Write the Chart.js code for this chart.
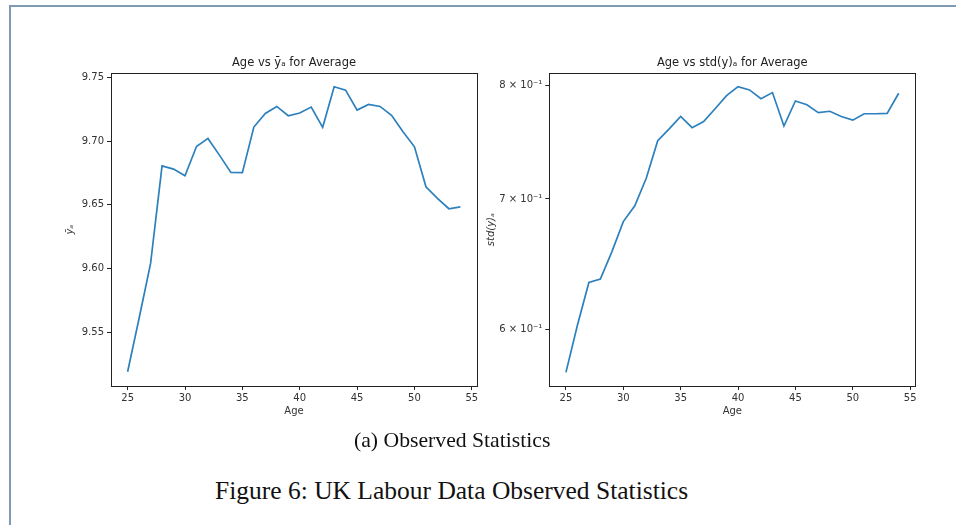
<!DOCTYPE html>
<html>
<head>
<meta charset="utf-8">
<script src="https://cdn.jsdelivr.net/npm/chart.js@4"></script>
<style>
  body { margin: 0; background: #fff; width: 956px; height: 525px; overflow: hidden; position: relative; }
  .frameTop { position: absolute; left: 9px; top: 5px; width: 947px; height: 2px; background: #7f9ab5; }
  .frameLeft { position: absolute; left: 9px; top: 5px; width: 2px; height: 520px; background: #7f9ab5; }
  .box { position: absolute; }
  .cap { position: absolute; font-family: "Liberation Serif", serif; color: #111; white-space: nowrap; }
</style>
</head>
<body>
<div class="frameTop"></div>
<div class="frameLeft"></div>
<div class="box" style="left:50px; top:45px; width:440px; height:390px;"><canvas id="meanChart"></canvas></div>
<div class="box" style="left:480px; top:45px; width:450px; height:390px;"><canvas id="stdChart"></canvas></div>
<div class="cap" id="sub" style="left:354px; top:428px; font-size:21.7px;">(a) Observed Statistics</div>
<div class="cap" id="fig" style="left:215px; top:476px; font-size:25.5px;">Figure 6: UK Labour Data Observed Statistics</div>
<script>
// ages 25..54
const ages = [25, 26, 27, 28, 29, 30, 31, 32, 33, 34, 35, 36, 37, 38, 39,
  40, 41, 42, 43, 44, 45, 46, 47, 48, 49, 50, 51, 52, 53, 54];

// mean of log wage per age
const meanY = [9.519, 9.561, 9.604, 9.6806, 9.678, 9.6728, 9.6958, 9.7021, 9.689, 9.6754,
  9.6752, 9.711, 9.7217, 9.7272, 9.7199, 9.722, 9.7267, 9.7108, 9.7426, 9.740,
  9.7243, 9.7288, 9.7272, 9.7202, 9.7073, 9.6955, 9.6641, 9.655, 9.6469, 9.6484];

// std of log wage per age
const stdY = [0.5703, 0.6030, 0.6342, 0.6367, 0.6576, 0.6815, 0.6944, 0.7173, 0.7499, 0.7604,
  0.7716, 0.7615, 0.7670, 0.7787, 0.7909, 0.7993, 0.7962, 0.7880, 0.7937, 0.7630,
  0.7859, 0.7824, 0.7751, 0.7764, 0.7716, 0.7683, 0.7741, 0.7741, 0.7745, 0.7931];

const xTicks = [25, 30, 35, 40, 45, 50, 55];
const meanTicks = [9.55, 9.60, 9.65, 9.70, 9.75];
const stdTicks = [0.6, 0.7, 0.8];

const FONT = 'DejaVu Sans';
const INK = '#333';

// matplotlib style box round the plot area
const boxPlugin = {
  id: 'axesBox',
  afterDraw(chart) {
    const a = chart.chartArea, ctx = chart.ctx;
    ctx.save();
    ctx.strokeStyle = '#222';
    ctx.lineWidth = 1;
    ctx.strokeRect(Math.round(a.left) + 0.5, Math.round(a.top) + 0.5,
      Math.round(a.right - a.left), Math.round(a.bottom - a.top));
    ctx.restore();
  }
};

function sup(n) {
  const map = { '-': '⁻', '1': '¹' };
  return String(n).split('').map(c => map[c] || c).join('');
}

function makeChart(id, values, opts) {
  const points = ages.map((a, i) => ({ x: a, y: values[i] }));
  return new Chart(document.getElementById(id), {
    type: 'line',
    data: {
      datasets: [{
        data: points,
        borderColor: '#2b80bd',
        borderWidth: 1.7,
        pointRadius: 0,
        tension: 0,
        fill: false
      }]
    },
    plugins: [boxPlugin],
    options: {
      responsive: true,
      maintainAspectRatio: false,
      animation: false,
      layout: { padding: { left: 0, right: opts.padRight, top: 0, bottom: 0 } },
      plugins: {
        legend: { display: false },
        tooltip: { enabled: false },
        title: {
          display: true,
          fullSize: false,
          text: opts.title,
          color: '#222',
          font: { family: FONT, size: 11.5, weight: 'normal', lineHeight: 1.2 },
          padding: { top: 11.1, bottom: 3.4 }
        }
      },
      scales: {
        x: {
          type: 'linear',
          min: 23.55,
          max: 55.45,
          afterBuildTicks: s => { s.ticks = xTicks.map(v => ({ value: v })); },
          afterFit: s => { s.height = 49; },
          grid: { display: true, drawOnChartArea: false, drawTicks: true, tickLength: 4, color: '#222' },
          border: { display: true, color: '#222' },
          ticks: { color: INK, font: { family: FONT, size: 10 }, padding: 2, maxRotation: 0 },
          title: { display: true, text: 'Age', color: INK, font: { family: FONT, size: 10 }, padding: { top: 0, bottom: 18 } }
        },
        y: {
          type: opts.yType,
          min: opts.yMin,
          max: opts.yMax,
          afterBuildTicks: s => { s.ticks = opts.yTicks.map(v => ({ value: v })); },
          afterFit: s => { s.width = opts.yWidth; },
          grid: { display: true, drawOnChartArea: false, drawTicks: true, tickLength: 4, color: '#222' },
          border: { display: true, color: '#222' },
          ticks: { color: INK, font: { family: FONT, size: 10 }, padding: 3, callback: opts.tickFmt },
          title: { display: true, text: opts.yTitle, color: INK, font: { family: FONT, size: 10, style: 'italic' }, padding: { top: opts.yTitlePad, bottom: 0 } }
        }
      }
    }
  });
}

makeChart('meanChart', meanY, {
  title: 'Age vs ȳₐ for Average',
  yType: 'linear', yMin: 9.5078, yMax: 9.7532, yTicks: meanTicks,
  yWidth: 61, padRight: 13, yTitle: 'ȳₐ', yTitlePad: 14,
  tickFmt: v => v.toFixed(2)
});

makeChart('stdChart', stdY, {
  title: 'Age vs std(y)ₐ for Average',
  yType: 'logarithmic', yMin: 0.5612, yMax: 0.8120, yTicks: stdTicks,
  yWidth: 69.3, padRight: 14.7, yTitle: 'std(y)ₐ', yTitlePad: 5,
  tickFmt: v => Math.round(v * 10) + ' × 10' + sup(-1)
});
</script>
</body>
</html>
